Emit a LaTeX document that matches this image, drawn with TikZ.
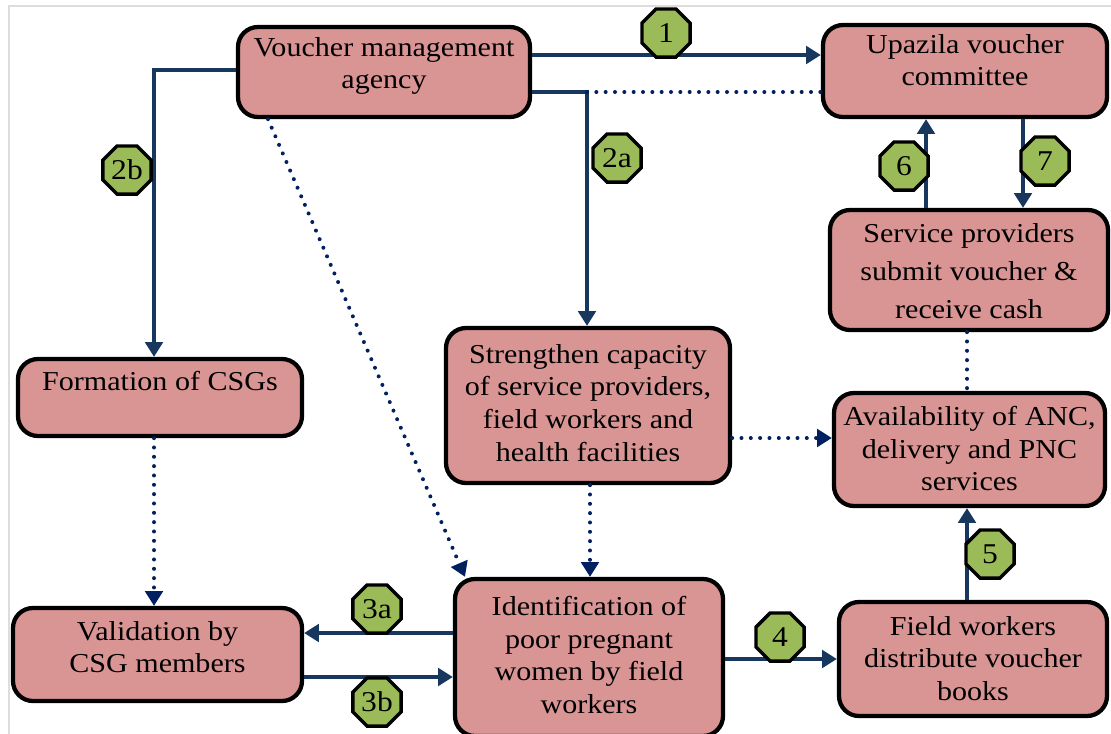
\documentclass[tikz,border=0pt]{standalone}
\usepackage{fontspec}
\setmainfont{Liberation Serif}[FakeStretch=1.1]
\usetikzlibrary{arrows.meta,shapes.geometric}
\definecolor{boxpink}{RGB}{217,149,148}
\definecolor{octgreen}{RGB}{155,187,89}
\definecolor{lineblue}{RGB}{23,55,94}
\definecolor{dotblue}{RGB}{0,32,96}
\definecolor{framegray}{RGB}{221,221,221}
\tikzset{
  x=0.75pt, y=-0.75pt,
  box/.style={draw=black, line width=3.2pt, fill=boxpink, rounded corners=15pt, inner sep=0pt},
  txt/.style={inner sep=0pt, align=center, anchor=north, text=black, font=\fontsize{20.5}{24.5}\selectfont},
  txtwide/.style={txt, font=\fontsize{20.5}{28.5}\selectfont},
  oct/.style={regular polygon, regular polygon sides=8, minimum size=52*0.75pt, inner sep=0pt,
    fill=octgreen, draw=black, line width=2.6pt, text=black, font=\fontsize{21.5}{23}\selectfont},
  sline/.style={draw=lineblue, line width=2.8pt},
  dline/.style={draw=dotblue, line width=3pt, line cap=round, dash pattern=on 0pt off 7pt},
  arr/.style={-{Triangle[length=11pt,width=13pt]}},
}
\begin{document}
\begin{tikzpicture}
\useasboundingbox (0,0) rectangle (1111,733);
\draw[framegray, line width=1.5pt] (8.5,740) -- (8.5,6) -- (1115,6);

% boxes
\node[box, minimum width=292*0.75pt, minimum height=90*0.75pt] (vma) at (384,72) {};
\node[box, minimum width=284*0.75pt, minimum height=92*0.75pt] (upz) at (965,71) {};
\node[box, minimum width=278*0.75pt, minimum height=120*0.75pt] (sp) at (969,270) {};
\node[box, minimum width=271*0.75pt, minimum height=113*0.75pt] (avail) at (969.5,449.5) {};
\node[box, minimum width=268*0.75pt, minimum height=114*0.75pt] (fw) at (973,659) {};
\node[box, minimum width=268*0.75pt, minimum height=157*0.75pt] (ident) at (589,657.5) {};
\node[box, minimum width=284*0.75pt, minimum height=155*0.75pt] (str) at (588,405.5) {};
\node[box, minimum width=284*0.75pt, minimum height=77*0.75pt] (form) at (160,397.5) {};
\node[box, minimum width=289*0.75pt, minimum height=93*0.75pt] (valid) at (157.5,654.5) {};

% texts
\node[txt] (vmaT) at ([yshift=-12*0.75pt]vma.north) {Voucher management\\agency};
\node[txt] (upzT) at ([yshift=-11*0.75pt]upz.north) {Upazila voucher\\committee};
\node[txtwide] (spT) at ([yshift=-15*0.75pt]sp.north) {Service providers\\submit voucher \&\\receive cash};
\node[txt] (availT) at ([yshift=-15*0.75pt]avail.north) {Availability of ANC,\\delivery and PNC\\services};
\node[txt] (fwT) at ([yshift=-16*0.75pt]fw.north) {Field workers\\distribute voucher\\books};
\node[txt] (identT) at ([yshift=-19*0.75pt]ident.north) {Identification of\\poor pregnant\\women by field\\workers};
\node[txt] (strT) at ([yshift=-18*0.75pt]str.north) {Strengthen capacity\\of service providers,\\field workers and\\health facilities};
\node[txt] (formT) at ([yshift=-14*0.75pt]form.north) {Formation of CSGs};
\node[txt] (validT) at ([yshift=-15*0.75pt]valid.north) {Validation by\\CSG members};

% helper coordinates
\coordinate (c2a) at (587,92);
\coordinate (c2b) at (154,70);

% solid connectors
\draw[sline, arr] (vma.east |- 0,55) -- (upz.west |- 0,55);
\draw[sline, arr] (vma.east |- c2a) -- (c2a) -- (str.north -| c2a);
\draw[sline, arr] (vma.west |- c2b) -- (c2b) -- (form.north -| c2b);
\draw[sline, arr] (ident.west |- 0,633) -- (valid.east |- 0,633);
\draw[sline, arr] (valid.east |- 0,677) -- (ident.west |- 0,677);
\draw[sline, arr] (ident.east |- 0,659) -- (fw.west |- 0,659);
\draw[sline, arr] (fw.north -| 967,0) -- (avail.south -| 967,0);
\draw[sline, arr] (sp.north -| 926,0) -- (upz.south -| 926,0);
\draw[sline, arr] (upz.south -| 1023,0) -- (sp.north -| 1023,0);

% dotted connectors
\draw[dline] (c2a) -- (upz.west |- c2a);
\draw[dline, arr] (vma.south -| 268,0) -- (ident.north -| 465,0);
\draw[dline, arr] (form.south -| 154,0) -- (valid.north -| 154,0);
\draw[dline, arr] (str.south -| 590,0) -- (ident.north -| 590,0);
\draw[dline, arr] (str.east |- 0,438) -- (avail.west |- 0,438);
\draw[dline] (sp.south -| 967,0) -- (avail.north -| 967,0);

% step labels
\node[oct] (o1) at (666,33) {1};
\node[oct] (o2a) at (617,158) {2a};
\node[oct] (o2b) at (127,170) {2b};
\node[oct] (o3a) at (377,609) {3a};
\node[oct] (o3b) at (377,702) {3b};
\node[oct] (o4) at (780,637) {4};
\node[oct] (o5) at (990,554) {5};
\node[oct] (o6) at (904,166) {6};
\node[oct] (o7) at (1045,161) {7};
\end{tikzpicture}
\end{document}
